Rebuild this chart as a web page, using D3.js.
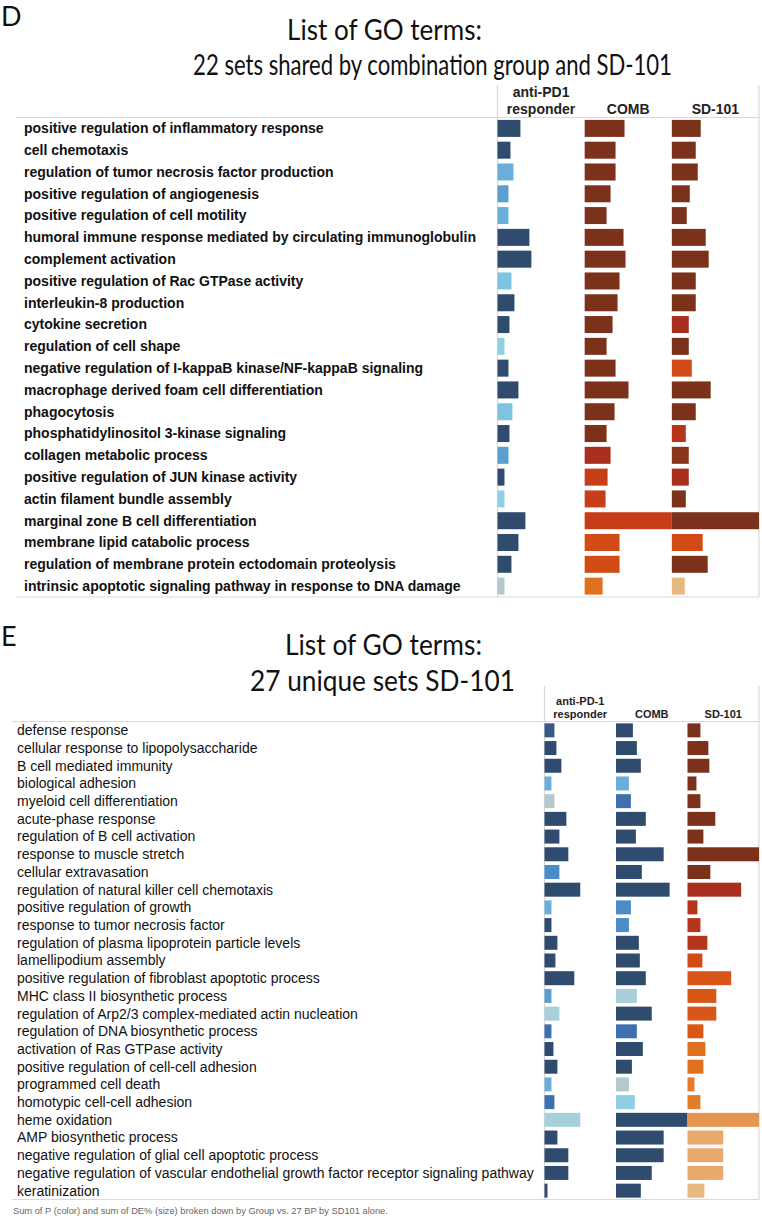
<!DOCTYPE html>
<html><head><meta charset="utf-8">
<script src="https://cdn.jsdelivr.net/npm/d3@7"></script>
<style>
html,body{margin:0;padding:0;background:#fff;}
svg{display:block;}
</style></head>
<body>
<svg id="chart" width="762" height="1220"></svg>
<script>
// ---------- DATA ----------
const groupsD = ["anti-PD1|responder", "COMB", "SD-101"];
const groupsE = ["anti-PD-1|responder", "COMB", "SD-101"];

const termsD = [
  "positive regulation of inflammatory response",
  "cell chemotaxis",
  "regulation of tumor necrosis factor production",
  "positive regulation of angiogenesis",
  "positive regulation of cell motility",
  "humoral immune response mediated by circulating immunoglobulin",
  "complement activation",
  "positive regulation of Rac GTPase activity",
  "interleukin-8 production",
  "cytokine secretion",
  "regulation of cell shape",
  "negative regulation of I-kappaB kinase/NF-kappaB signaling",
  "macrophage derived foam cell differentiation",
  "phagocytosis",
  "phosphatidylinositol 3-kinase signaling",
  "collagen metabolic process",
  "positive regulation of JUN kinase activity",
  "actin filament bundle assembly",
  "marginal zone B cell differentiation",
  "membrane lipid catabolic process",
  "regulation of membrane protein ectodomain proteolysis",
  "intrinsic apoptotic signaling pathway in response to DNA damage"
];
// sum of DE% (bar size)
const dAnti = [2.3,1.3,1.6,1.1,1.1,3.2,3.4,1.4,1.7,1.2,0.7,1.1,2.1,1.5,1.2,1.1,0.7,0.7,2.8,2.1,1.4,0.7];
const dComb = [4.0,3.1,3.1,2.6,2.2,3.9,4.1,3.5,3.3,2.8,2.2,3.1,4.4,3.0,2.2,2.6,2.3,2.1,8.75,3.5,3.5,1.8];
const dSd   = [2.9,2.4,2.6,1.8,1.5,3.4,3.7,2.4,2.4,1.7,1.7,2.0,3.9,2.4,1.4,1.7,1.7,1.4,8.75,3.1,3.6,1.3];
// sum of P (colour level, 0 = strongest blue ... 21 = strongest brown)
const dAntiP = [0,0,5,4,5,0,0,6,0,0,7,0,0,6,0,4,0,7,0,0,0,9];
const dCombP = [21,21,21,21,21,21,21,21,21,21,21,21,21,21,21,19,17,17,17,16,16,14];
const dSdP   = [21,21,21,21,21,21,21,21,21,19,21,16,21,21,18,20,19,21,21,16,21,10];

const termsE = [
  "defense response",
  "cellular response to lipopolysaccharide",
  "B cell mediated immunity",
  "biological adhesion",
  "myeloid cell differentiation",
  "acute-phase response",
  "regulation of B cell activation",
  "response to muscle stretch",
  "cellular extravasation",
  "regulation of natural killer cell chemotaxis",
  "positive regulation of growth",
  "response to tumor necrosis factor",
  "regulation of plasma lipoprotein particle levels",
  "lamellipodium assembly",
  "positive regulation of fibroblast apoptotic process",
  "MHC class II biosynthetic process",
  "regulation of Arp2/3 complex-mediated actin nucleation",
  "regulation of DNA biosynthetic process",
  "activation of Ras GTPase activity",
  "positive regulation of cell-cell adhesion",
  "programmed cell death",
  "homotypic cell-cell adhesion",
  "heme oxidation",
  "AMP biosynthetic process",
  "negative regulation of glial cell apoptotic process",
  "negative regulation of vascular endothelial growth factor receptor signaling pathway",
  "keratinization"
];
const eAnti = [1.0,1.2,1.7,0.7,1.0,2.2,1.5,2.4,1.5,3.6,0.7,0.7,1.3,1.1,3.0,0.7,1.5,0.7,0.9,1.3,0.7,1.0,3.6,1.3,2.4,2.4,0.3];
const eComb = [1.7,2.1,2.5,1.3,1.5,3.0,2.0,4.8,2.6,5.4,1.5,1.3,2.3,2.4,3.0,2.1,3.6,2.1,2.7,1.6,1.3,1.9,7.2,4.8,4.8,3.6,2.5];
const eSd   = [1.3,2.1,2.2,0.9,1.3,2.8,1.6,7.2,2.3,5.4,1.0,1.3,2.0,1.5,4.4,2.9,2.9,1.6,1.8,1.6,0.7,1.3,7.2,3.6,3.6,3.6,1.7];
const eAntiP = [1,0,0,5,9,0,0,0,3,0,5,0,0,0,0,4,8,2,0,0,5,2,8,0,0,0,0];
const eCombP = [0,0,0,5,2,0,0,0,0,0,3,3,0,0,0,8,0,2,0,0,9,7,0,0,0,0,0];
const eSdP   = [21,21,21,21,21,21,21,21,21,19,18,18,18,16,15,15,15,15,14,14,13,13,12,11,11,11,10];

const footerText = "Sum of P (color) and sum of DE% (size) broken down by Group vs. 27 BP by SD101 alone.";

// ---------- STYLE ----------
const palette = ["#2f4b6e","#36598a","#3e70ae","#4b8bc6","#5b9fd1","#6aafdb","#7cc4e2","#90cfe2","#a8d0da","#b4c9cd",
                 "#e8b883","#e8aa6c","#e69650","#e37c2b","#e0701e","#d85617","#d24a16","#c63f19","#b5351c","#a82e1d","#8c331b","#7b311a"];
const color = d3.scaleOrdinal().domain(d3.range(palette.length)).range(palette);
const gridColor = "#d9d9d9";

const svg = d3.select("#chart");

function panel(cfg) {
  const g = svg.append("g");
  const n = cfg.terms.length;
  const y = d3.scaleBand().domain(d3.range(n)).range([cfg.top, cfg.bottom]).paddingInner(cfg.pad).paddingOuter(cfg.pad/2);
  const colW = (cfg.right - cfg.left) / 3;
  const xc = d3.scaleBand().domain(d3.range(3)).range([cfg.left, cfg.right]);
  const all = cfg.values.flat();
  const x = d3.scaleLinear().domain([0, d3.max(all)]).range([0, colW]);

  // frame lines
  g.append("line").attr("x1", cfg.lineX0).attr("x2", cfg.right).attr("y1", cfg.top).attr("y2", cfg.top)
    .attr("stroke", gridColor).attr("stroke-width", 1.2);
  g.append("line").attr("x1", cfg.lineX0).attr("x2", cfg.right).attr("y1", cfg.bottom).attr("y2", cfg.bottom)
    .attr("stroke", gridColor).attr("stroke-width", 1.2);
  [cfg.left, cfg.right].forEach(xx => {
    g.append("line").attr("x1", xx).attr("x2", xx).attr("y1", cfg.frameTop).attr("y2", cfg.bottom)
      .attr("stroke", gridColor).attr("stroke-width", 1.2);
  });

  // column headers
  cfg.groups.forEach((gr, i) => {
    const lines = gr.split("|");
    const cx = xc(i) + colW / 2;
    lines.forEach((ln, j) => {
      g.append("text").attr("x", cx).attr("y", cfg.top - 4 - (lines.length - 1 - j) * cfg.headLead)
        .attr("text-anchor", "middle").attr("font-family", "Liberation Sans, Arial, sans-serif")
        .attr("font-weight", "bold").attr("font-size", cfg.headSize).attr("fill", "#222").text(ln);
    });
  });

  // row labels
  g.selectAll("text.lbl").data(cfg.terms).join("text").attr("class", "lbl")
    .attr("x", cfg.labelX).attr("y", (d, i) => y(i) + y.bandwidth() / 2)
    .attr("dy", "0.35em").attr("font-family", "Liberation Sans, Arial, sans-serif")
    .attr("font-weight", cfg.labelWeight).attr("font-size", cfg.labelSize).attr("fill", "#111")
    .text(d => d);

  // bars
  cfg.values.forEach((vals, ci) => {
    g.append("g").selectAll("rect").data(vals).join("rect")
      .attr("x", xc(ci))
      .attr("y", (d, i) => y(i))
      .attr("width", d => x(d))
      .attr("height", y.bandwidth())
      .attr("fill", (d, i) => color(cfg.pvals[ci][i]));
  });
}

// titles (horizontally scaled to the reference's narrow title face)
function title(letter, ly, lines) {
  svg.append("text").attr("x", 1).attr("y", ly).attr("font-family", "Lato, Open Sans, sans-serif")
    .attr("font-size", 27).attr("fill", "#111").text(letter);
  lines.forEach(l => {
    const t = svg.append("text").attr("x", 0).attr("y", 0).attr("text-anchor", "middle")
      .attr("font-family", "Lato, Open Sans, sans-serif").attr("font-size", 29).attr("fill", "#111")
      .text(l.t);
    const len = t.node().getComputedTextLength() || l.w;
    t.attr("transform", `translate(${l.cx},${l.y}) scale(${l.w / len},1)`);
  });
}
title("D", 26, [
  {t: "List of GO terms:", cx: 384.5, y: 40, w: 195},
  {t: "22 sets shared by combination group and SD-101", cx: 432.5, y: 75, w: 479}
]);
title("E", 646, [
  {t: "List of GO terms:", cx: 383.5, y: 655, w: 197},
  {t: "27 unique sets SD-101", cx: 382.5, y: 691, w: 265}
]);

panel({
  terms: termsD, groups: groupsD, values: [dAnti, dComb, dSd], pvals: [dAntiP, dCombP, dSdP],
  top: 117.5, bottom: 597, left: 497.5, right: 759, frameTop: 85, lineX0: 16, pad: 0.22,
  labelX: 24, labelSize: 14, labelWeight: "bold", headSize: 14, headLead: 17
});
panel({
  terms: termsE, groups: groupsE, values: [eAnti, eComb, eSd], pvals: [eAntiP, eCombP, eSdP],
  top: 721.5, bottom: 1199.5, left: 544.5, right: 759, frameTop: 686, lineX0: 12, pad: 0.21,
  labelX: 17, labelSize: 14, labelWeight: "normal", headSize: 11, headLead: 12.5
});

svg.append("text").attr("x", 13).attr("y", 1214).attr("font-family", "Liberation Sans, Arial, sans-serif")
  .attr("font-size", 9.3).attr("fill", "#666").text(footerText);
</script>
</body></html>
